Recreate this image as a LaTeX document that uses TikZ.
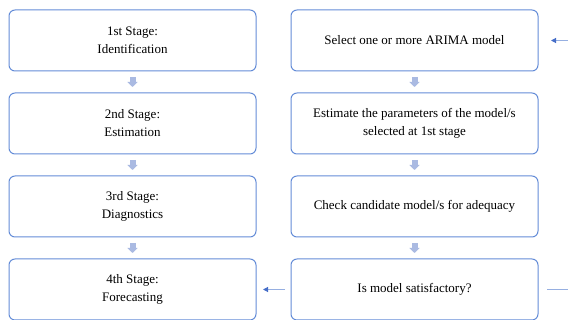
\documentclass[tikz,border=0pt]{standalone}
\usepackage{fontspec}
\setmainfont{Liberation Serif}
\usetikzlibrary{positioning, arrows.meta}

\definecolor{boxblue}{RGB}{100,140,215}
\definecolor{blockblue}{RGB}{170,186,226}
\definecolor{lineblue}{RGB}{150,175,225}
\definecolor{tipblue}{RGB}{70,110,200}

\begin{document}
\begin{tikzpicture}[
    x=1pt, y=-1pt,
    stage-box/.style={draw=boxblue, line width=1pt, rounded corners=6pt, minimum width=247pt, minimum height=61pt, align=center, font=\fontsize{13}{18}\selectfont, inner sep=0pt, outer sep=0pt},
    down-arr/.style={draw=blockblue, line width=6pt, -{Triangle[width=10pt, length=5pt, fill=blockblue]}, shorten <=6pt, shorten >=6pt},
    fb-arr/.style={draw=lineblue, line width=1.1pt, -{Triangle[width=5pt, length=5pt, color=tipblue, fill=tipblue]}}
  ]
  \useasboundingbox (0,0) rectangle (568,320);

  \node[stage-box] (st1) at (132.5,40.5) {1st Stage:\\Identification};
  \node[stage-box, below=22pt of st1] (st2) {2nd Stage:\\Estimation};
  \node[stage-box, below=22pt of st2] (st3) {3rd Stage:\\Diagnostics};
  \node[stage-box, below=22pt of st3] (st4) {4th Stage:\\Forecasting};

  \node[stage-box, right=35pt of st1] (sel) {Select one or more ARIMA model};
  \node[stage-box, right=35pt of st2] (est) {Estimate the parameters of the model/s\\selected at 1st stage};
  \node[stage-box, right=35pt of st3] (chk) {Check candidate model/s for adequacy};
  \node[stage-box, right=35pt of st4] (sat) {Is model satisfactory?};

  \foreach \a/\b in {st1/st2, st2/st3, st3/st4, sel/est, est/chk, chk/sat}
    \draw[down-arr] (\a) -- (\b);

  % loop back, cut at the page edge
  \coordinate (loop-in) at (570,40.5);
  \coordinate (loop-out) at (loop-in |- sat.east);
  \draw[fb-arr, shorten >=13pt] (loop-in) -- (sel.east);
  \draw[fb-arr, shorten <=6pt, shorten >=7pt] (sat.west) -- (st4.east);
  \draw[draw=lineblue, line width=1.1pt, shorten <=9pt] (sat.east) -- (loop-out);

\end{tikzpicture}
\end{document}
